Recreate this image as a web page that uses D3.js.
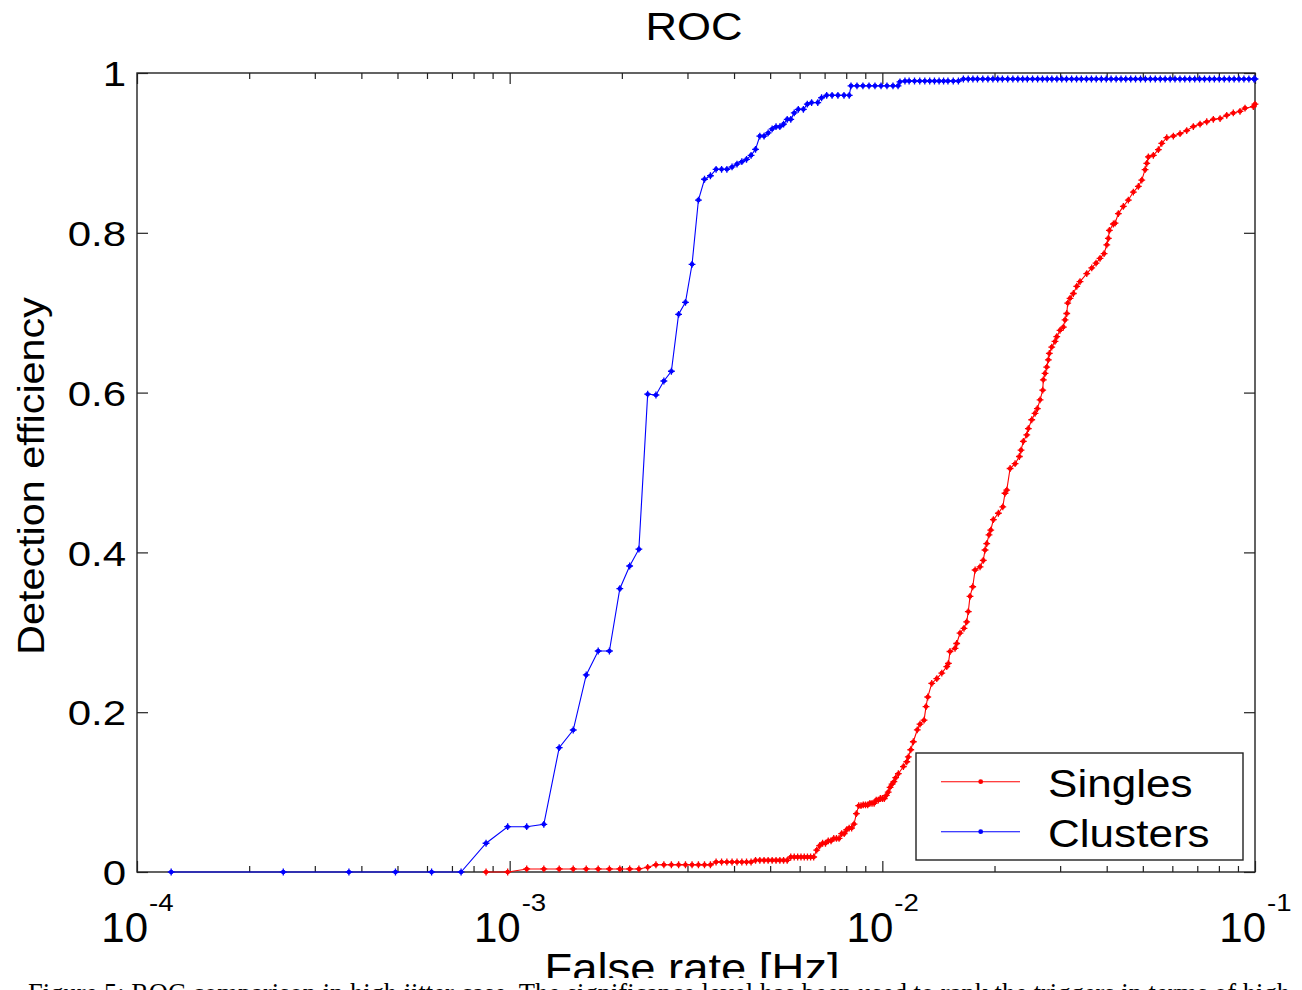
<!DOCTYPE html>
<html>
<head>
<meta charset="utf-8">
<script src="https://cdn.jsdelivr.net/npm/d3@7"></script>
<style>
  html, body { margin: 0; padding: 0; background: #fff; }
  svg { display: block; }
  text { font-family: "Liberation Sans", Arial, Helvetica, sans-serif; fill: #000; }
</style>
</head>
<body>
<svg id="chart" width="1302" height="990"></svg>
<script>
// ---------------- data ----------------
const chartTitle = "ROC";
const xLabel = "False rate [Hz]";
const yLabel = "Detection efficiency";
const seriesNames = ["Singles", "Clusters"];
const seriesColors = ["#ff0000", "#0000ff"];
const xDomain = [1e-4, 1e-1];
const xMajorExponents = [-4, -3, -2, -1];
const yTickValues = [0, 0.2, 0.4, 0.6, 0.8, 1];
const yTickLabels = ["0", "0.2", "0.4", "0.6", "0.8", "1"];
const captionText = "Figure 5: ROC comparison in high jitter case. The significance level has been used to rank the triggers in terms of high";

// Clusters: [false rate (Hz), detection efficiency]
const clustersData = [
  [1.235e-4, 0], [2.469e-4, 0], [3.704e-4, 0], [4.938e-4, 0], [6.173e-4, 0], [7.407e-4, 0],
  [8.642e-4, 0.036], [9.877e-4, 0.0567], [1.111e-3, 0.0567], [1.235e-3, 0.0597],
  [1.358e-3, 0.1556], [1.481e-3, 0.1777], [1.605e-3, 0.2466], [1.728e-3, 0.2766],
  [1.852e-3, 0.2766], [1.975e-3, 0.3546], [2.099e-3, 0.383], [2.222e-3, 0.404],
  [2.346e-3, 0.598], [2.469e-3, 0.597], [2.593e-3, 0.6145], [2.716e-3, 0.6267],
  [2.840e-3, 0.698], [2.963e-3, 0.713], [3.086e-3, 0.7606], [3.210e-3, 0.841],
  [3.333e-3, 0.867], [3.457e-3, 0.8714], [3.580e-3, 0.8795], [3.704e-3, 0.8795],
  [3.827e-3, 0.8795], [3.951e-3, 0.8824], [4.074e-3, 0.886], [4.198e-3, 0.889],
  [4.321e-3, 0.892], [4.444e-3, 0.897], [4.568e-3, 0.9045], [4.691e-3, 0.921],
  [4.815e-3, 0.921], [4.938e-3, 0.925], [5.062e-3, 0.930], [5.185e-3, 0.9328],
  [5.309e-3, 0.9328], [5.432e-3, 0.936], [5.556e-3, 0.942], [5.679e-3, 0.942],
  [5.802e-3, 0.950], [5.95e-3, 0.9545], [6.14e-3, 0.9545], [6.29e-3, 0.961],
  [6.46e-3, 0.963], [6.71e-3, 0.963], [6.87e-3, 0.969], [7.09e-3, 0.972],
  [7.33e-3, 0.972], [7.60e-3, 0.972], [7.89e-3, 0.972], [8.15e-3, 0.972],
  [8.24e-3, 0.984], [8.55e-3, 0.984], [8.87e-3, 0.984], [9.21e-3, 0.984],
  [9.555e-3, 0.984], [9.92e-3, 0.984], [1.029e-2, 0.984], [1.068e-2, 0.984],
  [1.102e-2, 0.984], [1.115e-2, 0.989], [1.15e-2, 0.990],
  [0.0118, 0.990], [0.0122, 0.990], [0.0126, 0.990], [0.013, 0.990], [0.0134, 0.990],
  [0.0138, 0.990], [0.0142, 0.990], [0.0146, 0.990], [0.015, 0.990], [0.0155, 0.990],
  [0.016, 0.990],
  [0.0165, 0.9925], [0.017, 0.9925], [0.0175, 0.9925], [0.018, 0.9925], [0.0186, 0.9925],
  [0.0192, 0.9925], [0.0198, 0.9925], [0.0204, 0.9925], [0.021, 0.9925], [0.0217, 0.9925],
  [0.0224, 0.9925], [0.0231, 0.9925], [0.0238, 0.9925], [0.0245, 0.9925], [0.0253, 0.9925],
  [0.0261, 0.9925], [0.0269, 0.9925], [0.0277, 0.9925], [0.0285, 0.9925], [0.0294, 0.9925],
  [0.0303, 0.9925], [0.0312, 0.9925], [0.0322, 0.9925], [0.0332, 0.9925], [0.0342, 0.9925],
  [0.0353, 0.9925], [0.0364, 0.9925], [0.0375, 0.9925], [0.0387, 0.9925], [0.0399, 0.9925],
  [0.0411, 0.9925], [0.0424, 0.9925], [0.0437, 0.9925], [0.045, 0.9925], [0.0464, 0.9925],
  [0.0478, 0.9925], [0.0493, 0.9925], [0.0508, 0.9925], [0.0524, 0.9925], [0.054, 0.9925],
  [0.0557, 0.9925], [0.0574, 0.9925], [0.0592, 0.9925], [0.061, 0.9925], [0.0629, 0.9925],
  [0.0648, 0.9925], [0.0668, 0.9925], [0.0689, 0.9925], [0.071, 0.9925], [0.0732, 0.9925],
  [0.0755, 0.9925], [0.0778, 0.9925], [0.0802, 0.9925], [0.0827, 0.9925], [0.0853, 0.9925],
  [0.0879, 0.9925], [0.0906, 0.9925], [0.0934, 0.9925], [0.0963, 0.9925], [0.0993, 0.9925],
  [0.1, 0.9925]
];

// Singles: [false rate (Hz), detection efficiency]
const singlesData = [
  [8.642e-4, 0], [9.877e-4, 0], [1.111e-3, 0.0038], [1.235e-3, 0.0038], [1.358e-3, 0.0038],
  [1.481e-3, 0.0038], [1.605e-3, 0.0038], [1.728e-3, 0.0038], [1.852e-3, 0.0038],
  [1.975e-3, 0.0038], [2.099e-3, 0.0038], [2.222e-3, 0.0038], [2.346e-3, 0.0059],
  [2.469e-3, 0.0091], [2.593e-3, 0.0091], [2.716e-3, 0.0091], [2.840e-3, 0.0091],
  [2.963e-3, 0.0091], [3.086e-3, 0.0091], [3.210e-3, 0.0091], [3.333e-3, 0.0091],
  [3.457e-3, 0.0091], [3.580e-3, 0.0125], [3.704e-3, 0.0125], [3.827e-3, 0.0125],
  [3.951e-3, 0.0125], [4.074e-3, 0.0125], [4.198e-3, 0.0125], [4.321e-3, 0.0125],
  [4.444e-3, 0.0125], [4.568e-3, 0.0146], [4.691e-3, 0.0146], [4.815e-3, 0.0146],
  [4.938e-3, 0.0146], [5.062e-3, 0.0146], [5.185e-3, 0.0146], [5.309e-3, 0.0146],
  [5.432e-3, 0.0146], [5.556e-3, 0.0146], [5.679e-3, 0.0188], [5.802e-3, 0.0188],
  [5.926e-3, 0.0188], [6.049e-3, 0.0188], [6.173e-3, 0.0188], [6.296e-3, 0.0188],
  [6.420e-3, 0.0188], [6.543e-3, 0.0188], [6.667e-3, 0.0275], [6.790e-3, 0.033],
  [6.914e-3, 0.036], [7.037e-3, 0.036], [7.160e-3, 0.039], [7.284e-3, 0.039],
  [7.407e-3, 0.042], [7.531e-3, 0.042], [7.654e-3, 0.042], [7.778e-3, 0.048],
  [7.901e-3, 0.048], [8.025e-3, 0.053], [8.148e-3, 0.055], [8.272e-3, 0.055],
  [8.395e-3, 0.060], [8.519e-3, 0.073], [8.642e-3, 0.083], [8.765e-3, 0.083],
  [8.889e-3, 0.084], [9.012e-3, 0.084], [9.136e-3, 0.084], [9.259e-3, 0.086],
  [9.383e-3, 0.086], [9.506e-3, 0.086], [9.630e-3, 0.090], [9.753e-3, 0.090],
  [9.877e-3, 0.092], [1.000e-2, 0.092], [1.012e-2, 0.092], [1.025e-2, 0.096],
  [1.037e-2, 0.100], [1.049e-2, 0.106], [1.062e-2, 0.110], [1.074e-2, 0.113],
  [1.086e-2, 0.118], [0.01104, 0.123], [0.01139, 0.132], [0.01163, 0.138],
  [0.01174, 0.144], [0.01192, 0.153], [0.01211, 0.163], [0.01241, 0.178],
  [0.01262, 0.185], [0.01294, 0.190], [0.01310, 0.207], [0.01324, 0.219],
  [0.01357, 0.236], [0.01400, 0.242], [0.01444, 0.249], [0.01489, 0.257],
  [0.01504, 0.261], [0.01519, 0.276], [0.01567, 0.280], [0.01583, 0.286],
  [0.01616, 0.299], [0.01656, 0.305], [0.01684, 0.313], [0.01701, 0.326],
  [0.01719, 0.345], [0.01748, 0.357], [0.01774, 0.378], [0.01829, 0.382],
  [0.01866, 0.390], [0.01886, 0.403], [0.01906, 0.411], [0.01933, 0.422],
  [0.01954, 0.428], [0.01986, 0.441], [0.02048, 0.449], [0.02105, 0.457],
  [0.02134, 0.474], [0.02157, 0.478], [0.02202, 0.505], [0.02271, 0.511],
  [0.02332, 0.520], [0.02356, 0.528], [0.02390, 0.539], [0.02441, 0.547],
  [0.02465, 0.555], [0.02517, 0.566], [0.02569, 0.574], [0.02606, 0.580],
  [0.02650, 0.591], [0.02694, 0.603], [0.02704, 0.616], [0.02733, 0.624],
  [0.02761, 0.632], [0.02789, 0.641], [0.02806, 0.649], [0.02848, 0.657],
  [0.02906, 0.664], [0.02938, 0.670], [0.02998, 0.678], [0.03060, 0.682],
  [0.03092, 0.691], [0.03125, 0.699], [0.03144, 0.712], [0.03189, 0.718],
  [0.03255, 0.724], [0.03324, 0.733], [0.03392, 0.739], [0.03536, 0.749],
  [0.03647, 0.756], [0.03745, 0.762], [0.03838, 0.768], [0.03936, 0.774],
  [0.04002, 0.785], [0.04041, 0.793], [0.04067, 0.803], [0.04168, 0.811],
  [0.04212, 0.812], [0.04299, 0.824], [0.04433, 0.833], [0.04572, 0.841],
  [0.04716, 0.851], [0.04864, 0.858], [0.04968, 0.866], [0.05070, 0.879],
  [0.05124, 0.887], [0.05175, 0.895], [0.05336, 0.897], [0.05504, 0.904],
  [0.05621, 0.912], [0.05797, 0.919], [0.06039, 0.921], [0.06293, 0.924],
  [0.06558, 0.928], [0.06832, 0.933], [0.07121, 0.936], [0.07421, 0.939],
  [0.07731, 0.942], [0.08058, 0.943], [0.08397, 0.947], [0.08746, 0.950],
  [0.09115, 0.952], [0.09402, 0.956], [0.09897, 0.958], [0.1, 0.961]
];

const seriesData = [singlesData, clustersData];

// ---------------- layout ----------------
const svg = d3.select("#chart");
const plot = { left: 137, right: 1255, top: 73, bottom: 872 };

const x = d3.scaleLog().domain(xDomain).range([plot.left, plot.right]);
const y = d3.scaleLinear().domain([0, 1]).range([plot.bottom, plot.top]);

const axisColor = "#222";

// minor / major x ticks
const allXTicks = x.ticks();
const majorXTicks = xMajorExponents.map(e => Math.pow(10, e));
const minorXTicks = allXTicks.filter(v => !majorXTicks.some(m => Math.abs(m - v) / m < 1e-6));

function styleAxis(g) {
  g.select(".domain").remove();
  g.selectAll(".tick line").attr("stroke", axisColor).attr("stroke-width", 1.2);
}

// bottom axis (ticks inside)
svg.append("g").attr("transform", `translate(0,${plot.bottom})`)
  .call(d3.axisBottom(x).tickValues(minorXTicks).tickSize(-6).tickFormat(""))
  .call(styleAxis);
svg.append("g").attr("transform", `translate(0,${plot.bottom})`)
  .call(d3.axisBottom(x).tickValues(majorXTicks).tickSize(-11).tickFormat(""))
  .call(styleAxis);
// top axis
svg.append("g").attr("transform", `translate(0,${plot.top})`)
  .call(d3.axisTop(x).tickValues(minorXTicks).tickSize(-6).tickFormat(""))
  .call(styleAxis);
svg.append("g").attr("transform", `translate(0,${plot.top})`)
  .call(d3.axisTop(x).tickValues(majorXTicks).tickSize(-11).tickFormat(""))
  .call(styleAxis);

// left axis with labels
const sxTick = 1.2;
const leftAxis = svg.append("g").attr("transform", `translate(${plot.left},0)`)
  .call(d3.axisLeft(y).tickValues(yTickValues).tickSize(-11).tickPadding(11)
    .tickFormat((d, i) => yTickLabels[i]))
  .call(styleAxis);
leftAxis.selectAll(".tick text")
  .attr("font-size", 35)
  .attr("font-family", "Liberation Sans, Arial, sans-serif")
  .attr("fill", "#000")
  .attr("x", -11 / sxTick)
  .attr("dy", "0.36em")
  .attr("transform", `scale(${sxTick},1)`);
// right axis
svg.append("g").attr("transform", `translate(${plot.right},0)`)
  .call(d3.axisRight(y).tickValues(yTickValues).tickSize(-11).tickFormat(""))
  .call(styleAxis);

// box
svg.append("rect")
  .attr("x", plot.left).attr("y", plot.top)
  .attr("width", plot.right - plot.left).attr("height", plot.bottom - plot.top)
  .attr("fill", "none").attr("stroke", axisColor).attr("stroke-width", 1.4);

// x tick labels: 10^e
const xTickG = svg.append("g");
xMajorExponents.forEach(e => {
  const px = x(Math.pow(10, e));
  xTickG.append("text")
    .attr("x", px + 11).attr("y", 942)
    .attr("text-anchor", "end")
    .attr("font-size", 42)
    .text("10");
  xTickG.append("text")
    .attr("transform", `translate(${px + 12},911) scale(1.2,1)`)
    .attr("text-anchor", "start")
    .attr("font-size", 23)
    .text(String(e));
});

// ---------------- series ----------------
const line = d3.line().x(d => x(d[0])).y(d => y(d[1]));
function drawMarker(sel, color) {
  sel.append("circle").attr("r", 2.3).attr("fill", color);
  sel.append("path").attr("d", "M-3.4,0H3.4M0,-3.4V3.4")
    .attr("stroke", color).attr("stroke-width", 1.3);
}
seriesData.forEach((data, i) => {
  const g = svg.append("g");
  g.append("path")
    .attr("d", line(data))
    .attr("fill", "none")
    .attr("stroke", seriesColors[i])
    .attr("stroke-width", 1.1);
  const m = g.selectAll("g.marker").data(data).enter().append("g")
    .attr("class", "marker")
    .attr("transform", d => `translate(${x(d[0])},${y(d[1])})`);
  drawMarker(m, seriesColors[i]);
});

// ---------------- legend ----------------
const legend = svg.append("g");
legend.append("rect")
  .attr("x", 916).attr("y", 753).attr("width", 327).attr("height", 107)
  .attr("fill", "#fff").attr("stroke", axisColor).attr("stroke-width", 1.4);
seriesNames.forEach((name, i) => {
  const ly = 781.7 + i * 50;
  legend.append("line")
    .attr("x1", 941).attr("x2", 1020).attr("y1", ly).attr("y2", ly)
    .attr("stroke", seriesColors[i]).attr("stroke-width", 1.1);
  legend.append("circle")
    .attr("cx", 980.7).attr("cy", ly).attr("r", 2.4).attr("fill", seriesColors[i]);
  legend.append("text")
    .attr("transform", `translate(1048,${ly + 15}) scale(1.13,1)`)
    .attr("font-size", 39)
    .text(name);
});

// ---------------- titles ----------------
svg.append("text")
  .attr("x", 694).attr("y", 40)
  .attr("text-anchor", "middle")
  .attr("font-size", 39)
  .attr("textLength", 97).attr("lengthAdjust", "spacingAndGlyphs")
  .text(chartTitle);

svg.append("text")
  .attr("transform", "translate(44,476) rotate(-90)")
  .attr("text-anchor", "middle")
  .attr("font-size", 37)
  .attr("textLength", 358).attr("lengthAdjust", "spacingAndGlyphs")
  .text(yLabel);

svg.append("text")
  .attr("x", 692).attr("y", 982)
  .attr("text-anchor", "middle")
  .attr("font-size", 40)
  .attr("textLength", 295).attr("lengthAdjust", "spacingAndGlyphs")
  .text(xLabel);

// caption strip (partially visible, as in the source page)
svg.append("rect")
  .attr("x", 0).attr("y", 978).attr("width", 1302).attr("height", 12)
  .attr("fill", "#fff");
svg.append("text")
  .attr("x", 28).attr("y", 1002)
  .style("font-family", "'Liberation Serif', 'Times New Roman', serif")
  .attr("font-size", 27)
  .attr("textLength", 1262).attr("lengthAdjust", "spacingAndGlyphs")
  .text(captionText);
</script>
</body>
</html>
